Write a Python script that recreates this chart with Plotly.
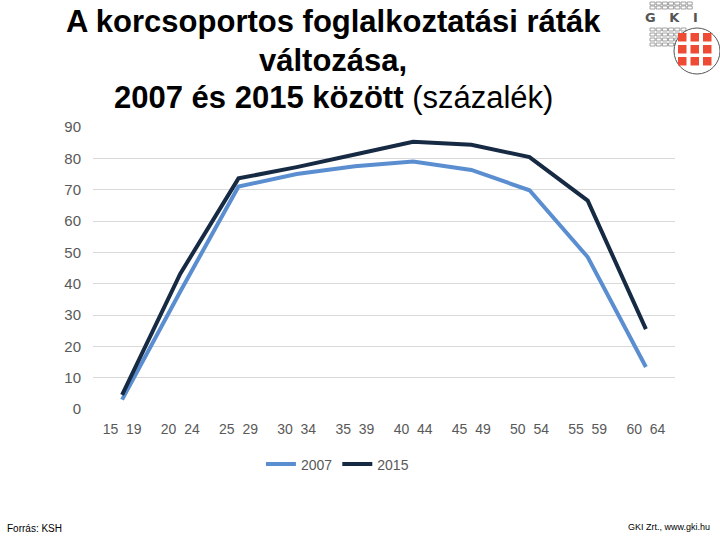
import plotly.graph_objects as go

categories = ["15\u00a0\u00a019", "20\u00a0\u00a024", "25\u00a0\u00a029", "30\u00a0\u00a034", "35\u00a0\u00a039",
              "40\u00a0\u00a044", "45\u00a0\u00a049", "50\u00a0\u00a054", "55\u00a0\u00a059", "60\u00a0\u00a064"]
rate_2007 = [3.0, 37.5, 71.0, 75.0, 77.5, 79.0, 76.3, 69.8, 48.5, 13.4]
rate_2015 = [4.5, 43.2, 73.6, 77.2, 81.2, 85.3, 84.3, 80.4, 66.5, 25.5]
y_ticks = [0, 10, 20, 30, 40, 50, 60, 70, 80, 90]

fig = go.Figure()
fig.add_trace(go.Scatter(x=categories, y=rate_2007, mode="lines", name="2007",
                         line=dict(color="#5A8ED0", width=4)))
fig.add_trace(go.Scatter(x=categories, y=rate_2015, mode="lines", name="2015",
                         line=dict(color="#172A43", width=4)))

font_family = "Liberation Sans, Arial, sans-serif"

fig.update_layout(
    width=720, height=540,
    margin=dict(l=93, r=45, t=127, b=131),
    paper_bgcolor="white", plot_bgcolor="white",
    font=dict(family=font_family, color="#595959", size=14),
    showlegend=True,
    legend=dict(orientation="h", x=0.42, xanchor="center", y=-0.14, yanchor="top",
                font=dict(size=14, color="#595959"), itemwidth=30, tracegroupgap=0),
    xaxis=dict(range=[-0.5, 9.5], showgrid=False, showline=False, zeroline=False, ticks="",
               ticklabelstandoff=10,
               tickfont=dict(size=14, color="#595959")),
    yaxis=dict(range=[0, 90], tickvals=y_ticks, showgrid=True, gridcolor="#D9D9D9",
               gridwidth=1, zeroline=False, showline=False, ticks="",
               ticklabelstandoff=11,
               tickfont=dict(size=15, color="#595959")),
)

title_lines = [
    ("<b>A korcsoportos foglalkoztatási ráták</b>", 22),
    ("<b>változása,</b>", 60),
    ("<b>2007 és 2015 között</b> (százalék)", 98),
]
for txt, ypx in title_lines:
    fig.add_annotation(text=txt, xref="paper", yref="paper",
                       x=(333 - 93) / 582, y=1 + (127 - ypx) / 282,
                       xanchor="center", yanchor="middle", showarrow=False,
                       font=dict(size=31, color="black", family=font_family))

fig.add_annotation(text="Forrás: KSH", xref="paper", yref="paper",
                   x=(5 - 93) / 582, y=-(528 - 409) / 282, xanchor="left", yanchor="middle",
                   showarrow=False, font=dict(size=10, color="black", family=font_family))
fig.add_annotation(text="GKI Zrt., www.gki.hu", xref="paper", yref="paper",
                   x=(712 - 93) / 582, y=-(527 - 409) / 282, xanchor="right", yanchor="middle",
                   showarrow=False, font=dict(size=9, color="black", family=font_family))

# Logo (pixel coordinates converted to paper)
def px(x):
    return (x - 93) / 582

def py(y):
    return (409 - y) / 282

shapes = []
for row_y in [2, 6]:
    for i in range(7):
        x0 = 650 + i * 6.2
        shapes.append(dict(type="rect", xref="paper", yref="paper",
                           x0=px(x0), x1=px(x0 + 5), y0=py(row_y), y1=py(row_y + 3),
                           line=dict(color="#8A8A8A", width=0.8), fillcolor="white"))
for row_y in [28, 33, 38, 43]:
    for i in range(6):
        x0 = 650 + i * 6.2
        shapes.append(dict(type="rect", xref="paper", yref="paper",
                           x0=px(x0), x1=px(x0 + 5), y0=py(row_y), y1=py(row_y + 3),
                           line=dict(color="#8A8A8A", width=0.8), fillcolor="white"))
shapes.append(dict(type="circle", xref="paper", yref="paper",
                   x0=px(674), x1=px(720), y0=py(28), y1=py(74),
                   line=dict(color="#555555", width=1), fillcolor="white"))
for r in range(3):
    for c in range(3):
        x0 = 678 + c * 12.5
        y0 = 33 + r * 12
        shapes.append(dict(type="rect", xref="paper", yref="paper",
                           x0=px(x0), x1=px(x0 + 8.5), y0=py(y0), y1=py(y0 + 8.5),
                           line=dict(width=0), fillcolor="#EE4B35"))
fig.update_layout(shapes=shapes)
fig.add_annotation(text="<b>G   K   I</b>", xref="paper", yref="paper",
                   x=px(671), y=py(18), xanchor="center", yanchor="middle",
                   showarrow=False, font=dict(size=13, color="#555555", family="DejaVu Sans"))

fig.write_html("out.html")
